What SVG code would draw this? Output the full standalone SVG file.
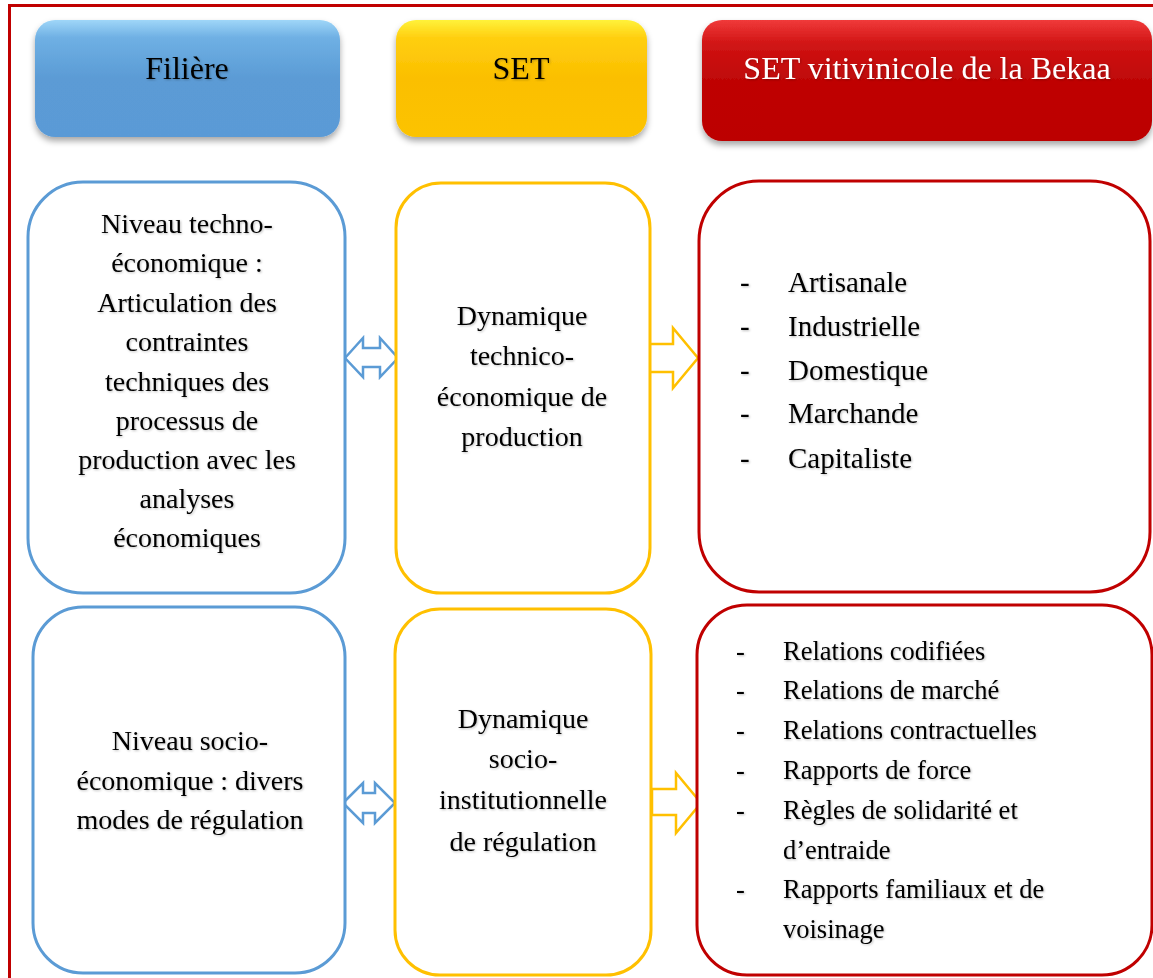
<svg xmlns="http://www.w3.org/2000/svg" width="1153" height="978" viewBox="0 0 1153 978">
<defs>
<linearGradient id="gBlue" x1="0" y1="0" x2="0" y2="1">
<stop offset="0" stop-color="#9fd6f8"/><stop offset="0.15" stop-color="#6fb0e4"/><stop offset="0.5" stop-color="#5b9bd5"/><stop offset="1" stop-color="#5a9ad6"/>
</linearGradient>
<linearGradient id="gYellow" x1="0" y1="0" x2="0" y2="1">
<stop offset="0" stop-color="#fff23a"/><stop offset="0.15" stop-color="#ffcf10"/><stop offset="0.5" stop-color="#fbbf00"/><stop offset="1" stop-color="#fcc300"/>
</linearGradient>
<linearGradient id="gRed" x1="0" y1="0" x2="0" y2="1">
<stop offset="0" stop-color="#f03a3a"/><stop offset="0.2" stop-color="#d01414"/><stop offset="0.5" stop-color="#bf0606"/><stop offset="1" stop-color="#bc0000"/>
</linearGradient>
<filter id="shadow" x="-10%" y="-10%" width="120%" height="140%">
<feDropShadow dx="0" dy="4" stdDeviation="3" flood-color="#000" flood-opacity="0.35"/>
</filter>
<filter id="tshadow" x="-5%" y="-20%" width="110%" height="150%">
<feDropShadow dx="1" dy="1" stdDeviation="0.8" flood-color="#000" flood-opacity="0.25"/>
</filter>
</defs>
<style>
.t{font-family:"Liberation Serif","Times New Roman",serif;fill:#000;}
.h{font-size:32px;text-anchor:middle;}
.b{font-size:28px;text-anchor:middle;}
.l1{font-size:29px;}
.l2{font-size:26.5px;}
.blue{fill:#fff;stroke:#5b9bd5;stroke-width:3;}
.yel{fill:#fff;stroke:#ffc000;stroke-width:3;}
.red{fill:#fff;stroke:#c00000;stroke-width:3;}
.ab{fill:#fff;stroke:#5b9bd5;stroke-width:2.5;stroke-linejoin:miter;}
.ay{fill:#fff;stroke:#ffc000;stroke-width:2.5;stroke-linejoin:miter;}
</style>
<rect width="1153" height="978" fill="#fff"/>
<path d="M9.5,978 V5.5 H1153" fill="none" stroke="#c00000" stroke-width="3"/>

<g id="head-filiere">
<rect x="35" y="20" width="305" height="117" rx="20" fill="url(#gBlue)" filter="url(#shadow)"/>
<text class="t h" x="187" y="79" filter="url(#tshadow)">Filière</text>
</g>
<g id="head-set">
<rect x="396" y="20" width="251" height="117" rx="20" fill="url(#gYellow)" filter="url(#shadow)"/>
<text class="t h" x="521" y="79" filter="url(#tshadow)">SET</text>
</g>
<g id="head-bekaa">
<rect x="702" y="20" width="450" height="121" rx="20" fill="url(#gRed)" filter="url(#shadow)"/>
<text class="t h" x="927" y="79" style="fill:#fff" filter="url(#tshadow)">SET vitivinicole de la Bekaa</text>
</g>

<g id="connectors">
<path class="ab" d="M345,358 L363,338 V348 H380 V338 L398,358 L380,377 V367 H363 V377 Z"/>
<path class="ab" d="M343,803 L363,783 V793 H375 V783 L395,803 L375,823 V813 H363 V823 Z"/>
<path class="ay" d="M648,344 H673 V328 L698,358 L673,388 V372 H648 Z"/>
<path class="ay" d="M652,789 H676 V773 L701,803 L676,833 V815 H652 Z"/>
</g>

<g id="filiere-techno">
<rect class="blue" x="28" y="182" width="317" height="411" rx="55"/>
<g class="t b" filter="url(#tshadow)">
<text x="187" y="233">Niveau techno-</text>
<text x="187" y="272">économique :</text>
<text x="187" y="312">Articulation des</text>
<text x="187" y="351">contraintes</text>
<text x="187" y="391">techniques des</text>
<text x="187" y="430">processus de</text>
<text x="187" y="469">production avec les</text>
<text x="187" y="508">analyses</text>
<text x="187" y="547">économiques</text>
</g>
</g>

<g id="set-techno">
<rect class="yel" x="396" y="183" width="254" height="410" rx="45"/>
<g class="t b" filter="url(#tshadow)">
<text x="522" y="325">Dynamique</text>
<text x="522" y="365">technico-</text>
<text x="522" y="406">économique de</text>
<text x="522" y="446">production</text>
</g>
</g>

<g id="bekaa-techno">
<rect class="red" x="699" y="181" width="451" height="411" rx="60"/>
<g class="t l1" filter="url(#tshadow)">
<text x="740" y="292">-</text><text x="788" y="292">Artisanale</text>
<text x="740" y="336">-</text><text x="788" y="336">Industrielle</text>
<text x="740" y="380">-</text><text x="788" y="380">Domestique</text>
<text x="740" y="423">-</text><text x="788" y="423">Marchande</text>
<text x="740" y="468">-</text><text x="788" y="468">Capitaliste</text>
</g>
</g>

<g id="filiere-socio">
<rect class="blue" x="33" y="607" width="312" height="366" rx="50"/>
<g class="t b" filter="url(#tshadow)">
<text x="190" y="750">Niveau socio-</text>
<text x="190" y="790">économique : divers</text>
<text x="190" y="829">modes de régulation</text>
</g>
</g>

<g id="set-socio">
<rect class="yel" x="395" y="609" width="256" height="366" rx="45"/>
<g class="t b" filter="url(#tshadow)">
<text x="523" y="728">Dynamique</text>
<text x="523" y="768">socio-</text>
<text x="523" y="809">institutionnelle</text>
<text x="523" y="851">de régulation</text>
</g>
</g>

<g id="bekaa-socio">
<rect class="red" x="697" y="605" width="455" height="370" rx="50"/>
<g class="t l2" filter="url(#tshadow)">
<text x="736" y="660">-</text><text x="783" y="660">Relations codifiées</text>
<text x="736" y="699">-</text><text x="783" y="699">Relations de marché</text>
<text x="736" y="739">-</text><text x="783" y="739">Relations contractuelles</text>
<text x="736" y="779">-</text><text x="783" y="779">Rapports de force</text>
<text x="736" y="819">-</text><text x="783" y="819">Règles de solidarité et</text>
<text x="783" y="859">d’entraide</text>
<text x="736" y="898">-</text><text x="783" y="898">Rapports familiaux et de</text>
<text x="783" y="938">voisinage</text>
</g>
</g>
</svg>
